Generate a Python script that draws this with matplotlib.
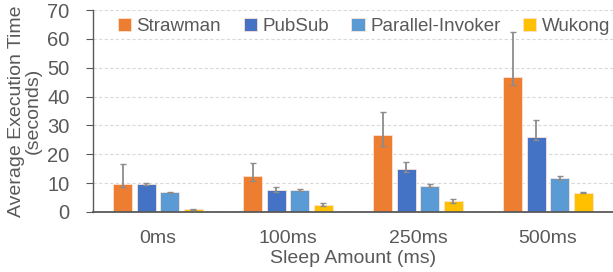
import matplotlib
matplotlib.use("Agg")
import matplotlib.pyplot as plt
import numpy as np

plt.rcParams['font.family'] = ['Liberation Sans', 'DejaVu Sans']

categories = ["0ms", "100ms", "250ms", "500ms"]
series = ["Strawman", "PubSub", "Parallel-Invoker", "Wukong"]
colors = ["#ED7D31", "#4472C4", "#5B9BD5", "#FFC000"]

strawman = [9.6, 12.5, 26.6, 46.9]
strawman_lo = [8.6, 10.9, 22.9, 44.0]
strawman_hi = [16.6, 17.1, 34.8, 62.5]

pubsub = [9.6, 7.6, 14.9, 26.1]
pubsub_lo = [9.3, 7.0, 13.8, 24.8]
pubsub_hi = [9.9, 8.6, 17.2, 31.8]

parallel = [6.8, 7.7, 9.1, 11.9]
parallel_lo = [6.6, 7.4, 8.7, 11.2]
parallel_hi = [7.0, 8.0, 9.8, 12.6]

wukong = [0.9, 2.3, 3.7, 6.7]
wukong_lo = [0.7, 2.0, 3.2, 6.5]
wukong_hi = [1.1, 3.0, 4.5, 6.9]

values = [strawman, pubsub, parallel, wukong]
lows = [strawman_lo, pubsub_lo, parallel_lo, wukong_lo]
highs = [strawman_hi, pubsub_hi, parallel_hi, wukong_hi]

fig = plt.figure(figsize=(6.13, 2.72), dpi=100)
ax = fig.add_axes([0.1517, 0.2206, 0.8483, 0.7424])

gray = "#595959"
x = np.arange(len(categories))
step = 0.181
width = 0.148
for i, (name, vals, lo, hi, c) in enumerate(zip(series, values, lows, highs, colors)):
    pos = x + (i - 1.5) * step
    v = np.array(vals)
    yerr = np.vstack([v - np.array(lo), np.array(hi) - v])
    ax.bar(pos, v, width, color=c, label=name, edgecolor="#FBE3D6", linewidth=0.6, zorder=2)
    ax.errorbar(pos, v, yerr=yerr, fmt="none", ecolor="#8C8C8C", elinewidth=1.3,
                capsize=2.5, capthick=1.0, zorder=3)

ax.set_xlim(-0.5, 3.5)
ax.set_ylim(0, 70)
ax.set_yticks(np.arange(0, 71, 10))
ax.set_xticks(x)
ax.set_xticklabels(categories)
ax.grid(axis="y", linestyle=(0, (3, 2)), color="#D9D9D9", linewidth=0.8, zorder=0)
ax.set_axisbelow(True)
for s in ["top", "right"]:
    ax.spines[s].set_visible(False)
ax.spines["left"].set_color(gray)
ax.spines["left"].set_linewidth(1.0)
ax.spines["bottom"].set_color(gray)
ax.spines["bottom"].set_linewidth(1.3)
ax.tick_params(axis="y", colors=gray, labelsize=14.5, length=5, width=0.8, pad=12)
ax.tick_params(axis="x", colors=gray, labelsize=14, length=0, pad=13)
ax.set_ylabel("Average Execution Time\n(seconds)", color=gray, fontsize=14, labelpad=4, linespacing=0.95)
ax.set_xlabel("Sleep Amount (ms)", color=gray, fontsize=14, labelpad=2)

leg = ax.legend(loc="upper center", bbox_to_anchor=(0.521, 1.045), ncol=4, frameon=False,
                fontsize=13.5, handlelength=0.7, handleheight=0.7, handletextpad=0.3,
                columnspacing=1.2, labelcolor=gray)

fig.savefig("out.png", dpi=100)
